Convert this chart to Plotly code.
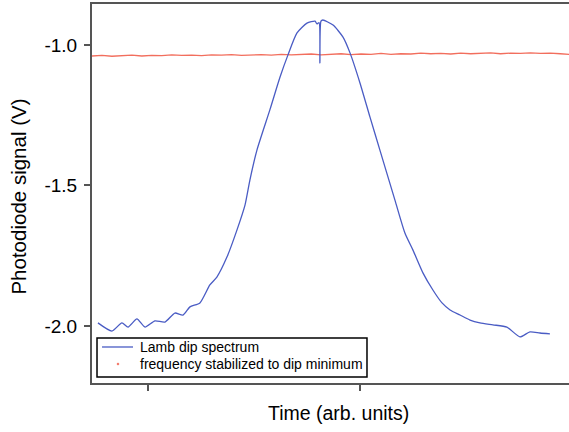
import plotly.graph_objects as go

# Lamb dip spectrum (time in arb. units, signal in V)
lamb_t = [-0.236, -0.170, -0.123, -0.094, -0.052, -0.014, 0.033, 0.080, 0.127, 0.165,
          0.198, 0.245, 0.292, 0.325, 0.373, 0.420, 0.458, 0.481, 0.514, 0.575,
          0.623, 0.660, 0.703, 0.750, 0.788, 0.797, 0.807, 0.811, 0.816, 0.825,
          0.873, 0.920, 0.953, 1.000, 1.047, 1.094, 1.165, 1.212, 1.250, 1.297,
          1.344, 1.387, 1.425, 1.472, 1.519, 1.566, 1.627, 1.693, 1.755, 1.802,
          1.849, 1.896]
lamb_v = [-1.989, -2.018, -1.989, -2.004, -1.975, -2.004, -1.982, -1.986, -1.954, -1.961,
          -1.932, -1.918, -1.854, -1.826, -1.754, -1.658, -1.569, -1.480, -1.374, -1.231,
          -1.114, -1.036, -0.957, -0.922, -0.915, -0.925, -0.920, -1.064, -0.915, -0.911,
          -0.929, -0.972, -1.028, -1.135, -1.256, -1.374, -1.552, -1.669, -1.730, -1.811,
          -1.872, -1.918, -1.943, -1.961, -1.979, -1.989, -1.996, -2.004, -2.039, -2.021,
          -2.025, -2.028]

# Frequency stabilized to dip minimum
stab_t = [-0.264, -0.217, -0.170, -0.123, -0.076, -0.029, 0.018, 0.065, 0.112, 0.159,
          0.206, 0.253, 0.300, 0.347, 0.394, 0.441, 0.488, 0.535, 0.582, 0.629,
          0.676, 0.723, 0.770, 0.817, 0.864, 0.911, 0.958, 1.005, 1.052, 1.099,
          1.146, 1.193, 1.240, 1.287, 1.334, 1.381, 1.428, 1.475, 1.522, 1.569,
          1.616, 1.663, 1.710, 1.757, 1.804, 1.851, 1.898, 1.945, 1.992]
stab_v = [-1.039, -1.037, -1.040, -1.038, -1.036, -1.039, -1.037, -1.038, -1.035, -1.037,
          -1.036, -1.038, -1.035, -1.036, -1.034, -1.037, -1.035, -1.034, -1.036, -1.033,
          -1.035, -1.034, -1.032, -1.035, -1.033, -1.031, -1.034, -1.032, -1.033, -1.030,
          -1.033, -1.031, -1.032, -1.029, -1.031, -1.030, -1.032, -1.029, -1.031, -1.030,
          -1.028, -1.031, -1.029, -1.030, -1.028, -1.030, -1.029, -1.031, -1.034]

series_names = ["Lamb dip spectrum", "frequency stabilized to dip minimum"]
y_ticks = [-1.0, -1.5, -2.0]
y_tick_text = ["-1.0", "-1.5", "-2.0"]
x_ticks = [0, 1]

FONT = "Liberation Sans, Arial, sans-serif"
BLUE = "#4a5cc4"
RED = "rgba(240,85,65,0.85)"

fig = go.Figure()
fig.add_trace(go.Scatter(x=stab_t, y=stab_v, mode="lines", name=series_names[1],
                         line=dict(color=RED, width=1.3), showlegend=False))
fig.add_trace(go.Scatter(x=lamb_t, y=lamb_v, mode="lines", name=series_names[0],
                         line=dict(color=BLUE, width=1.3, shape="spline", smoothing=0.6),
                         showlegend=False))

# compact boxed legend (paper coordinates)
shapes = [
    dict(type="rect", xref="paper", yref="paper", x0=0.0105, x1=0.5765,
         y0=0.0158, y1=0.1187, line=dict(color="black", width=1.5),
         fillcolor="white", layer="above"),
    dict(type="line", xref="paper", yref="paper", x0=0.021, x1=0.086,
         y0=0.095, y1=0.095, line=dict(color=BLUE, width=1.3), layer="above"),
    dict(type="circle", xref="paper", yref="paper", x0=0.0525, x1=0.0565,
         y0=0.0475, y1=0.0527, line=dict(color=RED, width=0.5),
         fillcolor=RED, layer="above"),
]
legend_text = [
    dict(text=series_names[0], xref="paper", yref="paper", x=0.0964, y=0.095,
         xanchor="left", yanchor="middle", showarrow=False,
         font=dict(size=14, family=FONT)),
    dict(text=series_names[1], xref="paper", yref="paper", x=0.0964, y=0.049,
         xanchor="left", yanchor="middle", showarrow=False,
         font=dict(size=14, family=FONT)),
]

fig.update_layout(
    width=569, height=432,
    margin=dict(l=92, r=0, t=4, b=49),
    paper_bgcolor="white", plot_bgcolor="white",
    font=dict(family=FONT, color="black"),
    showlegend=False,
    shapes=shapes,
    xaxis=dict(range=[-0.264, 1.986], showgrid=False, zeroline=False,
               tickvals=x_ticks, showticklabels=False, ticks="outside",
               ticklen=6, tickwidth=1.5, tickcolor="#555",
               showline=True, linecolor="#555", linewidth=2, mirror=True),
    yaxis=dict(range=[-2.203, -0.854], showgrid=False, zeroline=False,
               tickvals=y_ticks, ticktext=y_tick_text, ticks="outside",
               ticklen=6, tickwidth=1.5, tickcolor="#555",
               tickfont=dict(size=19, family=FONT), ticklabelstandoff=3,
               showline=True, linecolor="#555", linewidth=2),
    annotations=[
        dict(text="Photodiode signal (V)", xref="paper", yref="paper",
             x=-0.153, y=0.492, xanchor="center", yanchor="middle",
             textangle=-90, showarrow=False, font=dict(size=20.5, family=FONT)),
        dict(text="Time (arb. units)", xref="paper", yref="paper",
             x=0.516, y=-0.08, xanchor="center", yanchor="middle",
             showarrow=False, font=dict(size=19.5, family=FONT)),
    ] + legend_text,
)

fig.write_html("out.html")
